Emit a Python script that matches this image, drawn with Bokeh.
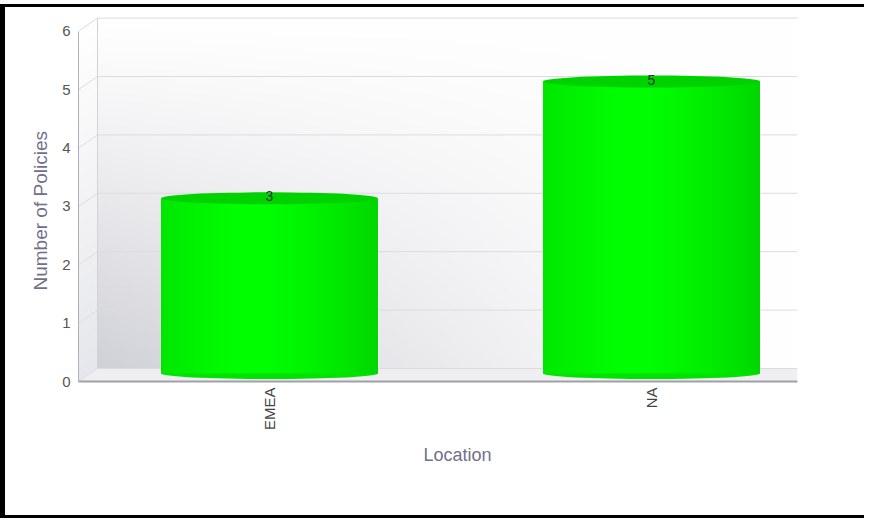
import numpy as np
from math import pi
from bokeh.plotting import figure
from bokeh.models import Range1d, FixedTicker, LinearAxis, Title
from bokeh.core.properties import value
from bokeh.embed import file_html
from bokeh.resources import INLINE

# ---- data ----
categories = ["EMEA", "NA"]
policies = [3, 5]
y_ticks = [0, 1, 2, 3, 4, 5, 6]
x_title = "Location"
y_title = "Number of Policies"

FONT = "Liberation Sans"
W, H = 864, 514
ML, MR, MT, MB = 73, 72, 7, 140
frame_w = W - ML - MR
frame_h = H - MT - MB
ppu_x = 382.0
ppu_y = 58.4
x_end = frame_w / ppu_x
y_end = frame_h / ppu_y

# 3D depth (style) in data units
dx_back = 19 / ppu_x
dy_back = 13 / ppu_y
dy_mid = 8 / ppu_y
bar_w = 217 / ppu_x
y_top = max(y_ticks)

xs = [i + 0.5 for i in range(len(categories))]

p = figure(width=W, height=H, output_backend="svg", toolbar_location=None,
           x_range=Range1d(0, x_end), y_range=Range1d(0, y_end),
           x_axis_type=None, y_axis_type=None,
           min_border_left=ML, min_border_right=MR, min_border_top=MT, min_border_bottom=MB)
p.outline_line_color = None
p.background_fill_color = "white"
p.border_fill_color = "white"
p.styles = {"border-left": "5px solid black", "border-top": "3px solid black",
            "border-bottom": "3px solid black", "border-right": "none",
            "margin-top": "4px"}

# ---- back wall gradient ----
nx, ny = 160, 120
u = np.linspace(0, 1, nx)
v = np.linspace(0, 1, ny)
shade = 46 * np.outer((1 - v) ** 1.1, (1 - u) ** 1.2)
wall = np.empty((ny, nx), dtype=np.uint32)
wv = wall.view(dtype=np.uint8).reshape((ny, nx, 4))
wv[..., 0] = np.clip(255 - shade * 1.02, 0, 255).astype(np.uint8)
wv[..., 1] = np.clip(255 - shade, 0, 255).astype(np.uint8)
wv[..., 2] = np.clip(255 - shade * 0.88, 0, 255).astype(np.uint8)
wv[..., 3] = 255
p.image_rgba(image=[wall], x=dx_back, y=dy_back, dw=x_end - dx_back, dh=y_top)

# ---- side wall (bands) ----
nb = 24
sxs, sys_, scol = [], [], []
for k in range(nb):
    v0 = y_top * k / nb
    v1 = y_top * (k + 1) / nb
    sxs.append([0, 0, dx_back, dx_back])
    sys_.append([v0, v1, v1 + dy_back, v0 + dy_back])
    s = 24 * (1 - (k + 0.5) / nb)
    scol.append("#%02x%02x%02x" % (int(255 - s * 1.03), int(255 - s), int(255 - s * 0.8)))
p.patches(xs=sxs, ys=sys_, fill_color=scol, line_color=scol, line_width=0.5)

# ---- floor ----
p.patch(x=[0, x_end, x_end, dx_back], y=[0, 0, dy_back, dy_back],
        fill_color="#efeff2", line_color=None)

# ---- grid lines on back wall + slants ----
p.segment(x0=[dx_back] * len(y_ticks), y0=[t + dy_back for t in y_ticks],
          x1=[x_end] * len(y_ticks), y1=[t + dy_back for t in y_ticks],
          line_color="#dcdcde", line_width=1)
p.segment(x0=[0] * len(y_ticks), y0=y_ticks,
          x1=[dx_back] * len(y_ticks), y1=[t + dy_back for t in y_ticks],
          line_color="#dcdcde", line_width=1)
p.segment(x0=[dx_back], y0=[dy_back], x1=[dx_back], y1=[y_top + dy_back],
          line_color="#d2d2d8", line_width=1)

# ---- cylinders ----
cu = np.linspace(0, 1, 160)
gch = 255 - 40 * (np.abs(cu - 0.42) / 0.58) ** 1.5
body = np.empty((1, cu.size), dtype=np.uint32)
bv = body.view(dtype=np.uint8).reshape((1, cu.size, 4))
bv[..., 0] = 0
bv[..., 1] = np.clip(gch, 0, 255).astype(np.uint8)
bv[..., 2] = 0
bv[..., 3] = 255

n = len(categories)
p.ellipse(x=xs, y=[dy_mid] * n, width=bar_w, height=11, height_units="screen",
          fill_color="#00e200", line_color=None)
p.image_rgba(image=[body] * n, x=[x - bar_w / 2 for x in xs], y=[dy_mid] * n,
             dw=[bar_w] * n, dh=policies)
p.ellipse(x=xs, y=[val + dy_mid for val in policies], width=bar_w, height=12,
          height_units="screen", fill_color="#00d200", line_color=None)

# ---- value labels ----
p.text(x=xs, y=policies, text=[str(val) for val in policies], text_align="center",
       text_baseline="middle", y_offset=-10, text_font=value(FONT),
       text_font_size="14px", text_color="#333333")

# ---- axes ----
yaxis = LinearAxis(ticker=FixedTicker(ticks=y_ticks), bounds=(0, y_top))
yaxis.axis_line_color = "#b0b0bc"
yaxis.axis_line_width = 1
yaxis.major_tick_out = 0
yaxis.major_tick_in = 0
yaxis.minor_tick_out = 0
yaxis.minor_tick_in = 0
yaxis.major_label_standoff = 8
yaxis.major_label_text_font = FONT
yaxis.major_label_text_font_size = "15px"
yaxis.major_label_text_color = "#555555"
p.add_layout(yaxis, "left")

xaxis = LinearAxis(ticker=FixedTicker(ticks=xs),
                   major_label_overrides={x: c for x, c in zip(xs, categories)})
xaxis.axis_line_color = "#a0a0a8"
xaxis.axis_line_width = 2
xaxis.major_tick_out = 0
xaxis.major_tick_in = 0
xaxis.minor_tick_out = 0
xaxis.minor_tick_in = 0
xaxis.major_label_orientation = pi / 2
xaxis.major_label_standoff = 6
xaxis.major_label_text_font = FONT
xaxis.major_label_text_font_size = "15px"
xaxis.major_label_text_color = "#444444"
p.add_layout(xaxis, "below")

# ---- axis titles as side-panel titles ----
p.add_layout(Title(text=y_title, align="left", offset=91, standoff=18,
                   text_font=FONT, text_font_size="19px", text_font_style="normal",
                   text_color="#70708a"), "left")
p.add_layout(Title(text=x_title, align="left", offset=345, standoff=19,
                   text_font=FONT, text_font_size="18px", text_font_style="normal",
                   text_color="#70708a"), "below")

open("out.html", "w").write(file_html(p, INLINE))
